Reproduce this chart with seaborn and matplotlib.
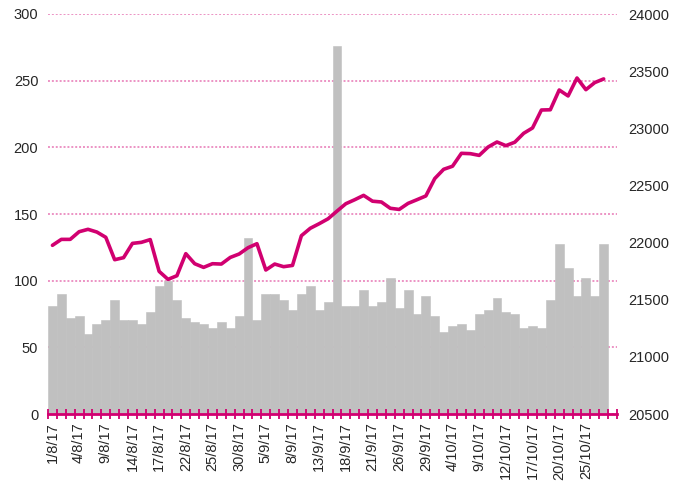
import numpy as np
import pandas as pd
import matplotlib
matplotlib.use("Agg")
import matplotlib.pyplot as plt
import seaborn as sns

# trading days, Aug-Oct 2017
dates = ["1/8/17", "2/8/17", "3/8/17", "4/8/17", "7/8/17", "8/8/17", "9/8/17", "10/8/17",
         "11/8/17", "14/8/17", "15/8/17", "16/8/17", "17/8/17", "18/8/17", "21/8/17",
         "22/8/17", "23/8/17", "24/8/17", "25/8/17", "28/8/17", "29/8/17", "30/8/17",
         "31/8/17", "1/9/17", "5/9/17", "6/9/17", "7/9/17", "8/9/17", "11/9/17", "12/9/17",
         "13/9/17", "14/9/17", "15/9/17", "18/9/17", "19/9/17", "20/9/17", "21/9/17",
         "22/9/17", "25/9/17", "26/9/17", "27/9/17", "28/9/17", "29/9/17", "2/10/17",
         "3/10/17", "4/10/17", "5/10/17", "6/10/17", "9/10/17", "10/10/17", "11/10/17",
         "12/10/17", "13/10/17", "16/10/17", "17/10/17", "18/10/17", "19/10/17",
         "20/10/17", "23/10/17", "24/10/17", "25/10/17", "26/10/17", "27/10/17"]

# bars, left axis
volume = [81, 90, 72, 73.5, 60, 67.5, 70.5, 85.5, 70.5, 70.5, 67.5, 76.5, 96, 100,
          85.5, 72, 69, 67.5, 64.5, 69, 64.5, 73.5, 132, 70.5, 90, 90, 85.5, 78, 90, 96,
          78, 84, 276, 81, 81, 93, 81, 84, 102, 79.5, 93, 75, 88.5, 73.5, 61.5, 66, 67.5,
          63, 75, 78, 87, 76.5, 75, 64.5, 66, 64.5, 85.5, 127.5, 109.5, 88.5, 102, 88.5,
          127.5]

# line, right axis
close = [21976, 22028, 22028, 22095, 22116, 22092, 22046, 21850, 21868, 21993, 22002,
         22026, 21748, 21678, 21710, 21903, 21815, 21783, 21815, 21812, 21870, 21900,
         21955, 21990, 21760, 21812, 21789, 21800, 22060, 22125, 22165, 22208, 22275,
         22340, 22375, 22413, 22362, 22355, 22300, 22290, 22343, 22375, 22408, 22560,
         22641, 22668, 22781, 22778, 22763, 22836, 22880, 22848, 22878, 22956, 23003,
         23160, 23162, 23335, 23283, 23440, 23338, 23400, 23432]

df = pd.DataFrame({"date": dates, "volume": volume, "close": close})
df["pos"] = np.arange(len(df))

pink = "#D10070"
grid_pink = "#EC93C4"
grey = "#C0C0C0"

sns.set_style("white")
plt.rcParams["font.family"] = ["Liberation Sans", "DejaVu Sans"]

fig = plt.figure(figsize=(6.82, 4.84), dpi=100)
ax = fig.add_axes([48 / 682, 1 - 414 / 484, (617 - 48) / 682, 400 / 484])

sns.barplot(data=df, x="date", y="volume", color=grey, saturation=1, width=1,
            edgecolor=grey, linewidth=0.4, ax=ax)
ax.set_xlim(-0.5, 63.5)
ax.set_ylim(0, 300)
ax.set_yticks(np.arange(0, 301, 50))
ax.set_axisbelow(True)
ax.xaxis.set_zorder(2.5)  # tick marks over the bars, gridlines stay behind
ax.yaxis.grid(True, color=grid_pink, linestyle=(0, (1, 1)), linewidth=1.4)
ax.xaxis.grid(False)
ax.set_xlabel("")
ax.set_ylabel("")

ax.set_xticks(df["pos"][::3])
ax.set_xticklabels(df["date"][::3], rotation=90)
ax.set_xticks(np.arange(-0.5, 64, 1), minor=True)
ax.tick_params(axis="x", which="major", bottom=True, length=0, pad=6, labelsize=10.5)
ax.tick_params(axis="x", which="minor", bottom=True, length=7, width=1.3, color=pink,
               direction="inout")
ax.tick_params(axis="y", length=0, pad=7, labelsize=10.5)

for s in ["top", "left", "right"]:
    ax.spines[s].set_visible(False)
ax.spines["bottom"].set_color(pink)
ax.spines["bottom"].set_linewidth(2)
ax.spines["bottom"].set_zorder(2.5)

ax2 = ax.twinx()
sns.lineplot(data=df, x="pos", y="close", color=pink, linewidth=2.6, ax=ax2,
             solid_joinstyle="round", solid_capstyle="round")
ax2.set_xlim(-0.5, 63.5)
ax2.set_ylim(20500, 24000)
ax2.set_yticks(np.arange(20500, 24001, 500))
ax2.grid(False)
ax2.set_xlabel("")
ax2.set_ylabel("")
ax2.tick_params(axis="y", length=0, pad=8, labelsize=10.5)
for s in ax2.spines.values():
    s.set_visible(False)

fig.savefig("out.png", dpi=100, facecolor="white")
